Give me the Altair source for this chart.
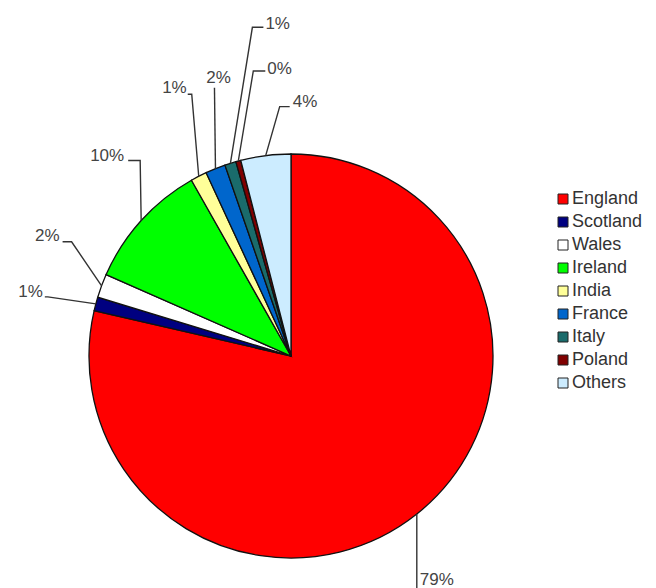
import altair as alt
import numpy as np
import pandas as pd

# ---- data ----
categories = ["England", "Scotland", "Wales", "Ireland", "India", "France", "Italy", "Poland", "Others"]
shares = [78.6, 1.1, 1.9, 10.2, 1.3, 1.6, 0.9, 0.4, 4.0]
colors = ["#FF0000", "#000080", "#FFFFFF", "#00FF00", "#FFFF99", "#0066CC", "#1A6B6B", "#800000", "#CCECFF"]

# ---- layout (pixels) ----
W, H = 640, 580
CX, CY, R = 283, 348, 202

# leader-line geometry per label, offsets in px from the slice's rim midpoint
elbow_off = [(0, 78), (-48, -7), (-30, -44), (-1, -60), (-7, -82), (-1, -81), (22, -136), (15, -90), (14, -49)]
end_off = [(0, 78), (-51, -7), (-39, -44), (-13, -60), (-11, -82), (-1, -81), (33, -136), (27, -90), (24, -49)]
label_off = [(3, -12), (-2, -5), (-3, -6), (-4, -5), (-1, -6), (4, -10), (2, -3), (2, -2), (3, -5)]
label_align = ["left", "right", "right", "right", "right", "center", "left", "left", "left"]

vals = np.array(shares)
total = vals.sum()
cum = np.cumsum(vals)
mid = (cum - vals / 2) / total * 2 * np.pi
ax_px = CX + R * np.sin(mid)
ay_px = CY - R * np.cos(mid)


def ux(px):
    return (px - CX) / R


def uy(py):
    return (CY - py) / R


pie_df = pd.DataFrame({"cat": categories, "share": shares, "idx": range(len(categories))})

line_rows, text_rows = [], []
for i, c in enumerate(categories):
    pts = [(ax_px[i], ay_px[i]),
           (ax_px[i] + elbow_off[i][0], ay_px[i] + elbow_off[i][1]),
           (ax_px[i] + end_off[i][0], ay_px[i] + end_off[i][1])]
    for s, (px, py) in enumerate(pts):
        line_rows.append({"cat": c, "step": s, "x": ux(px), "y": uy(py)})
    ex, ey = pts[2]
    text_rows.append({"cat": c, "label": f"{round(shares[i])}%", "align": label_align[i],
                      "x": ux(ex + label_off[i][0]), "y": uy(ey + label_off[i][1])})
line_df = pd.DataFrame(line_rows)
text_df = pd.DataFrame(text_rows)

xs = alt.Scale(domain=[ux(0), ux(W)], nice=False, zero=False)
ys = alt.Scale(domain=[uy(H), uy(0)], nice=False, zero=False)

pie = alt.Chart(pie_df).mark_arc(outerRadius=R, stroke="#111111", strokeWidth=1.3).encode(
    theta=alt.Theta("share:Q", stack=True),
    order=alt.Order("idx:Q"),
    color=alt.Color("cat:N", scale=alt.Scale(domain=categories, range=colors),
                    legend=alt.Legend(title=None, orient="none", legendX=546, legendY=182,
                                      symbolType="square", symbolSize=100,
                                      symbolStrokeColor="#222222", symbolStrokeWidth=1,
                                      labelFontSize=18, labelFont="Liberation Sans",
                                      labelColor="#333333", rowPadding=5, labelOffset=0,
                                      padding=0)),
    x=alt.value(CX),
    y=alt.value(CY),
)

lines = alt.Chart(line_df).mark_line(color="#333333", strokeWidth=1.4).encode(
    x=alt.X("x:Q", scale=xs, axis=None),
    y=alt.Y("y:Q", scale=ys, axis=None),
    detail="cat:N",
    order="step:Q",
)

texts = []
for a in ["left", "right", "center"]:
    texts.append(
        alt.Chart(text_df).transform_filter(alt.datum.align == a).mark_text(
            align=a, baseline="middle", fontSize=17, font="Liberation Sans", color="#444444"
        ).encode(
            x=alt.X("x:Q", scale=xs, axis=None),
            y=alt.Y("y:Q", scale=ys, axis=None),
            text="label:N",
        )
    )

chart = alt.layer(pie, lines, *texts).properties(
    width=W, height=H, padding=0, autosize="none", background="white"
).configure_view(stroke=None)

chart.save("out.html", embed_options={"renderer": "svg", "actions": False})
